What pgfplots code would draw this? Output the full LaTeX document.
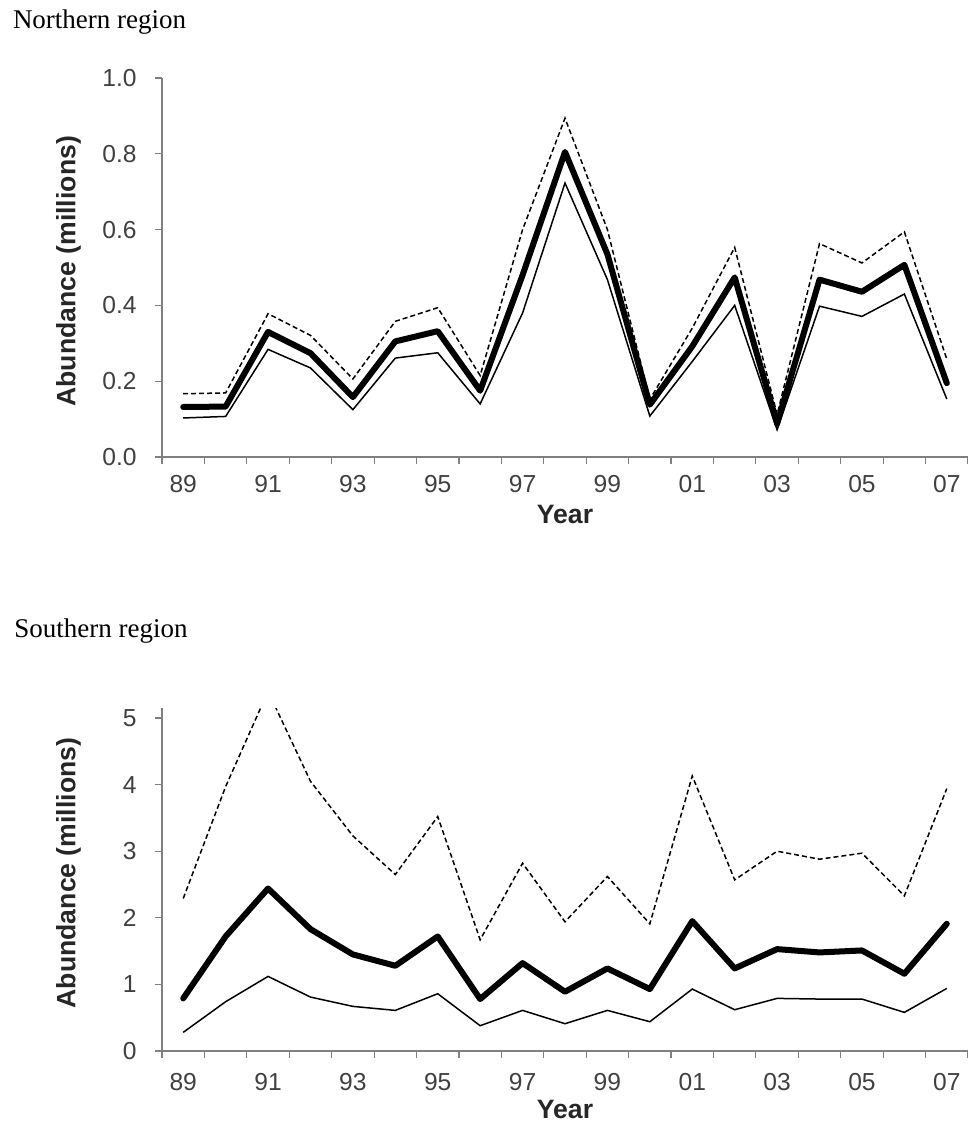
\documentclass[border=0pt]{standalone}
\usepackage{fontspec}
\setmainfont{Liberation Sans}
\newfontfamily\seriffont{Liberation Serif}
\usepackage{pgfplots}
\usepackage{pgfplotstable}
\pgfplotsset{compat=1.18}

\pgfplotstableread{
x dash thick thin
0 0.167 0.132 0.103
1 0.169 0.133 0.107
2 0.378 0.330 0.284
3 0.321 0.274 0.235
4 0.206 0.158 0.125
5 0.358 0.305 0.261
6 0.394 0.332 0.275
7 0.215 0.175 0.140
8 0.600 0.480 0.380
9 0.894 0.805 0.723
10 0.600 0.535 0.468
11 0.152 0.138 0.108
12 0.340 0.292 0.252
13 0.553 0.474 0.400
14 0.112 0.088 0.072
15 0.563 0.468 0.398
16 0.512 0.436 0.371
17 0.594 0.507 0.430
18 0.258 0.195 0.153
}\north

\pgfplotstableread{
x dash thick thin
0 2.29 0.79 0.28
1 3.97 1.72 0.74
2 5.40 2.44 1.12
3 4.05 1.83 0.81
4 3.23 1.45 0.67
5 2.65 1.28 0.61
6 3.52 1.72 0.86
7 1.67 0.78 0.38
8 2.82 1.32 0.61
9 1.94 0.89 0.41
10 2.62 1.24 0.61
11 1.91 0.93 0.44
12 4.13 1.95 0.93
13 2.57 1.24 0.62
14 3.00 1.53 0.79
15 2.88 1.48 0.78
16 2.97 1.51 0.78
17 2.33 1.16 0.58
18 3.94 1.91 0.94
}\south

\pgfplotsset{
  base/.style={
    scale only axis, width=403pt,
    xmin=-0.5, xmax=18.5,
    axis x line=bottom, axis y line=left,
    axis line style={draw=gray, line width=0.6pt, -},
    tick align=outside,
    major tick length=3.5pt,
    tick style={draw=gray, line width=0.6pt},
    xtick={-0.5,0.5,...,18.5},
    xticklabel=\empty,
    extra x ticks={0,2,...,18},
    extra x tick labels={89,91,93,95,97,99,01,03,05,07},
    extra x tick style={major tick length=0pt},
    ticklabel style={font=\fontsize{12.3}{14}\selectfont, text=black!75},
    xticklabel style={anchor=north, inner sep=0pt},
    yticklabel style={anchor=east, inner sep=0pt, xshift=-9pt},
    xlabel={Year},
    ylabel={Abundance (millions)},
    label style={font=\bfseries\fontsize{13.3}{15}\selectfont, text=black!85},
    dashline/.style={black, line width=0.75pt, dash pattern=on 2.5pt off 1.5pt},
    thinline/.style={black, line width=0.75pt},
    thickline/.style={black, line width=3pt, line join=round, line cap=round},
  }
}

\begin{document}
\begin{tikzpicture}
\path[use as bounding box] (0,0) rectangle (484pt,-571pt);
\node[anchor=base west, inner sep=0pt, font=\seriffont\fontsize{13.5}{16}\selectfont] at (6.3pt,-14pt) {Northern region};
\node[anchor=base west, inner sep=0pt, font=\seriffont\fontsize{13.5}{16}\selectfont] at (7pt,-318.5pt) {Southern region};

\begin{axis}[base,
  at={(81pt,-228.5pt)}, anchor=south west,
  height=189.5pt,
  ymin=0, ymax=1,
  ytick={0,0.2,0.4,0.6,0.8,1},
  yticklabels={0.0,0.2,0.4,0.6,0.8,1.0},
  extra x tick style={major tick length=0pt, xticklabel style={yshift=-9pt}},
  xlabel style={at={(axis description cs:0.5,0)}, anchor=north, inner sep=0pt, yshift=-24pt},
  ylabel style={at={(axis description cs:-0.116,0.49)}, anchor=center, rotate=0},
]
\addplot[dashline] table[x=x,y=dash] {\north};
\addplot[thinline] table[x=x,y=thin] {\north};
\addplot[thickline] table[x=x,y=thick] {\north};
\end{axis}

\begin{axis}[base,
  at={(81pt,-525.5pt)}, anchor=south west,
  height=171.5pt,
  ymin=0, ymax=5.15,
  ytick={0,1,2,3,4,5},
  yticklabels={0,1,2,3,4,5},
  extra x tick style={major tick length=0pt, xticklabel style={yshift=-11pt}},
  xlabel style={at={(axis description cs:0.5,0)}, anchor=north, inner sep=0pt, yshift=-24.5pt},
  ylabel style={at={(axis description cs:-0.116,0.519)}, anchor=center, rotate=0},
]
\addplot[dashline] table[x=x,y=dash] {\south};
\addplot[thinline] table[x=x,y=thin] {\south};
\addplot[thickline] table[x=x,y=thick] {\south};
\end{axis}
\end{tikzpicture}
\end{document}
